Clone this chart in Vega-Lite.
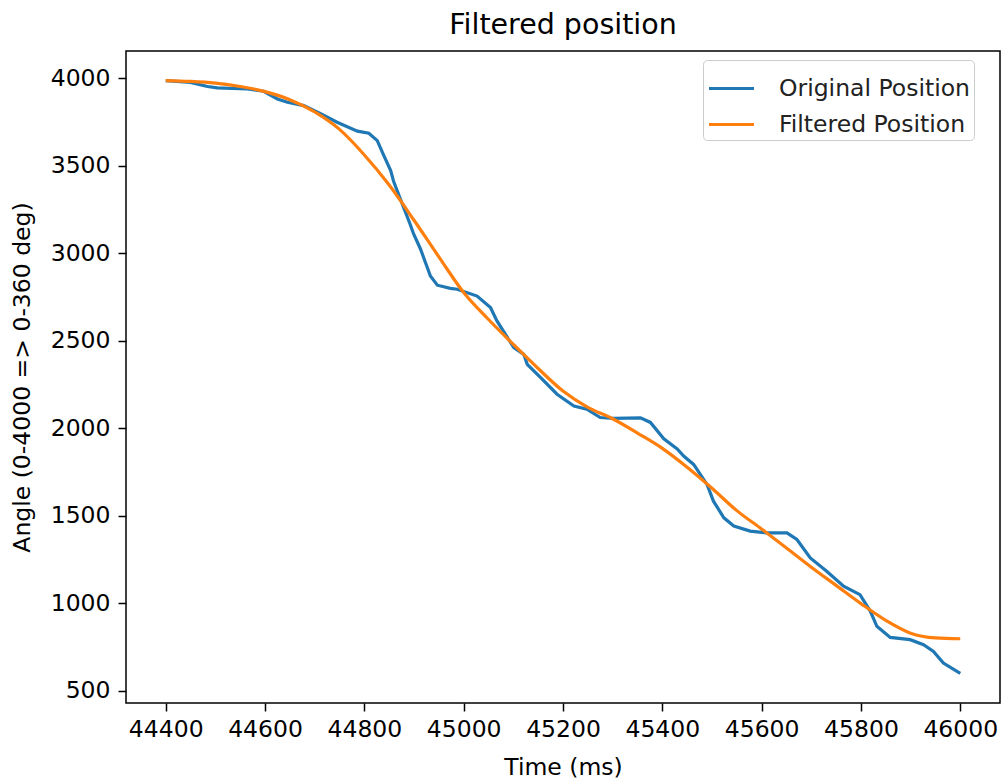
{
  "$schema": "https://vega.github.io/schema/vega-lite/v6.json",
  "width": 874,
  "height": 652,
  "autosize": {"type": "none"},
  "padding": {"left": 126, "top": 51, "right": 5, "bottom": 80},
  "background": "white",
  "config": {
    "font": "DejaVu Sans",
    "view": {"stroke": "black", "strokeWidth": 1.5},
    "axis": {"grid": false, "domain": false, "tickColor": "black", "tickWidth": 1.5, "tickSize": 8, "labelColor": "black", "labelFontSize": 23.5, "labelFont": "DejaVu Sans", "titleFont": "DejaVu Sans", "titleFontSize": 23.5, "titleFontWeight": "normal", "titleColor": "black"}
  },
  "title": {"text": "Filtered position", "fontSize": 28.5, "font": "DejaVu Sans", "fontWeight": "normal", "color": "black", "offset": 12},
  "data": {"values": [
    {"t": 44400, "angle": 3987, "series": "Original Position"},
    {"t": 44450, "angle": 3977, "series": "Original Position"},
    {"t": 44484, "angle": 3953, "series": "Original Position"},
    {"t": 44504, "angle": 3945, "series": "Original Position"},
    {"t": 44564, "angle": 3939, "series": "Original Position"},
    {"t": 44597, "angle": 3926, "series": "Original Position"},
    {"t": 44625, "angle": 3882, "series": "Original Position"},
    {"t": 44645, "angle": 3863, "series": "Original Position"},
    {"t": 44678, "angle": 3844, "series": "Original Position"},
    {"t": 44712, "angle": 3798, "series": "Original Position"},
    {"t": 44745, "angle": 3749, "series": "Original Position"},
    {"t": 44786, "angle": 3698, "series": "Original Position"},
    {"t": 44809, "angle": 3686, "series": "Original Position"},
    {"t": 44826, "angle": 3644, "series": "Original Position"},
    {"t": 44839, "angle": 3560, "series": "Original Position"},
    {"t": 44853, "angle": 3473, "series": "Original Position"},
    {"t": 44859, "angle": 3410, "series": "Original Position"},
    {"t": 44879, "angle": 3263, "series": "Original Position"},
    {"t": 44892, "angle": 3168, "series": "Original Position"},
    {"t": 44899, "angle": 3112, "series": "Original Position"},
    {"t": 44913, "angle": 3025, "series": "Original Position"},
    {"t": 44933, "angle": 2870, "series": "Original Position"},
    {"t": 44947, "angle": 2818, "series": "Original Position"},
    {"t": 44973, "angle": 2800, "series": "Original Position"},
    {"t": 44987, "angle": 2795, "series": "Original Position"},
    {"t": 45027, "angle": 2756, "series": "Original Position"},
    {"t": 45054, "angle": 2690, "series": "Original Position"},
    {"t": 45067, "angle": 2614, "series": "Original Position"},
    {"t": 45101, "angle": 2461, "series": "Original Position"},
    {"t": 45121, "angle": 2423, "series": "Original Position"},
    {"t": 45128, "angle": 2366, "series": "Original Position"},
    {"t": 45155, "angle": 2290, "series": "Original Position"},
    {"t": 45188, "angle": 2195, "series": "Original Position"},
    {"t": 45222, "angle": 2128, "series": "Original Position"},
    {"t": 45248, "angle": 2110, "series": "Original Position"},
    {"t": 45275, "angle": 2062, "series": "Original Position"},
    {"t": 45302, "angle": 2057, "series": "Original Position"},
    {"t": 45356, "angle": 2060, "series": "Original Position"},
    {"t": 45376, "angle": 2034, "series": "Original Position"},
    {"t": 45403, "angle": 1940, "series": "Original Position"},
    {"t": 45430, "angle": 1882, "series": "Original Position"},
    {"t": 45443, "angle": 1842, "series": "Original Position"},
    {"t": 45463, "angle": 1794, "series": "Original Position"},
    {"t": 45490, "angle": 1680, "series": "Original Position"},
    {"t": 45503, "angle": 1584, "series": "Original Position"},
    {"t": 45524, "angle": 1489, "series": "Original Position"},
    {"t": 45544, "angle": 1442, "series": "Original Position"},
    {"t": 45577, "angle": 1413, "series": "Original Position"},
    {"t": 45611, "angle": 1403, "series": "Original Position"},
    {"t": 45651, "angle": 1403, "series": "Original Position"},
    {"t": 45671, "angle": 1365, "series": "Original Position"},
    {"t": 45698, "angle": 1260, "series": "Original Position"},
    {"t": 45731, "angle": 1184, "series": "Original Position"},
    {"t": 45765, "angle": 1098, "series": "Original Position"},
    {"t": 45798, "angle": 1050, "series": "Original Position"},
    {"t": 45819, "angle": 955, "series": "Original Position"},
    {"t": 45832, "angle": 869, "series": "Original Position"},
    {"t": 45859, "angle": 806, "series": "Original Position"},
    {"t": 45899, "angle": 793, "series": "Original Position"},
    {"t": 45926, "angle": 764, "series": "Original Position"},
    {"t": 45946, "angle": 726, "series": "Original Position"},
    {"t": 45966, "angle": 659, "series": "Original Position"},
    {"t": 46000, "angle": 600, "series": "Original Position"},
    {"t": 44400, "angle": 3987, "series": "Filtered Position"},
    {"t": 44450, "angle": 3982, "series": "Filtered Position"},
    {"t": 44500, "angle": 3972, "series": "Filtered Position"},
    {"t": 44550, "angle": 3953, "series": "Filtered Position"},
    {"t": 44600, "angle": 3924, "series": "Filtered Position"},
    {"t": 44650, "angle": 3878, "series": "Filtered Position"},
    {"t": 44700, "angle": 3808, "series": "Filtered Position"},
    {"t": 44750, "angle": 3708, "series": "Filtered Position"},
    {"t": 44800, "angle": 3562, "series": "Filtered Position"},
    {"t": 44850, "angle": 3390, "series": "Filtered Position"},
    {"t": 44900, "angle": 3189, "series": "Filtered Position"},
    {"t": 44950, "angle": 2980, "series": "Filtered Position"},
    {"t": 45000, "angle": 2776, "series": "Filtered Position"},
    {"t": 45050, "angle": 2622, "series": "Filtered Position"},
    {"t": 45100, "angle": 2480, "series": "Filtered Position"},
    {"t": 45150, "angle": 2342, "series": "Filtered Position"},
    {"t": 45200, "angle": 2213, "series": "Filtered Position"},
    {"t": 45250, "angle": 2120, "series": "Filtered Position"},
    {"t": 45300, "angle": 2055, "series": "Filtered Position"},
    {"t": 45350, "angle": 1973, "series": "Filtered Position"},
    {"t": 45400, "angle": 1886, "series": "Filtered Position"},
    {"t": 45450, "angle": 1778, "series": "Filtered Position"},
    {"t": 45500, "angle": 1658, "series": "Filtered Position"},
    {"t": 45550, "angle": 1530, "series": "Filtered Position"},
    {"t": 45600, "angle": 1425, "series": "Filtered Position"},
    {"t": 45650, "angle": 1317, "series": "Filtered Position"},
    {"t": 45700, "angle": 1207, "series": "Filtered Position"},
    {"t": 45750, "angle": 1103, "series": "Filtered Position"},
    {"t": 45800, "angle": 999, "series": "Filtered Position"},
    {"t": 45850, "angle": 903, "series": "Filtered Position"},
    {"t": 45900, "angle": 830, "series": "Filtered Position"},
    {"t": 45950, "angle": 803, "series": "Filtered Position"},
    {"t": 46000, "angle": 798, "series": "Filtered Position"}
  ]},
  "encoding": {
    "x": {"field": "t", "type": "quantitative", "title": "Time (ms)",
      "scale": {"domain": [44320, 46080], "nice": false, "zero": false},
      "axis": {"values": [44400, 44600, 44800, 45000, 45200, 45400, 45600, 45800, 46000], "format": "d", "labelPadding": 6, "titlePadding": 15}},
    "y": {"field": "angle", "type": "quantitative", "title": "Angle (0-4000 => 0-360 deg)",
      "scale": {"domain": [431, 4156], "nice": false, "zero": false},
      "axis": {"values": [500, 1000, 1500, 2000, 2500, 3000, 3500, 4000], "format": "d", "labelPadding": 8, "titlePadding": 16}},
    "color": {"field": "series", "type": "nominal",
      "scale": {"domain": ["Original Position", "Filtered Position"], "range": ["#1f77b4", "#ff7f0e"]},
      "legend": {"title": null, "orient": "none", "legendX": 577, "legendY": 9, "symbolType": "stroke", "symbolSize": 2025, "symbolStrokeWidth": 3.2, "labelFontSize": 23.5, "labelFont": "DejaVu Sans", "labelColor": "#222", "labelLimit": 400, "labelOffset": 23, "rowPadding": -8, "padding": 4, "fillColor": "white", "strokeColor": "#cccccc", "cornerRadius": 4}},
    "order": {"field": "t", "type": "quantitative"}
  },
  "layer": [
    {"transform": [{"filter": "datum.series === 'Original Position'"}],
     "mark": {"type": "line", "strokeWidth": 3.2, "interpolate": "linear"}},
    {"transform": [{"filter": "datum.series === 'Filtered Position'"}],
     "mark": {"type": "line", "strokeWidth": 3.2, "interpolate": "monotone"}}
  ]
}
